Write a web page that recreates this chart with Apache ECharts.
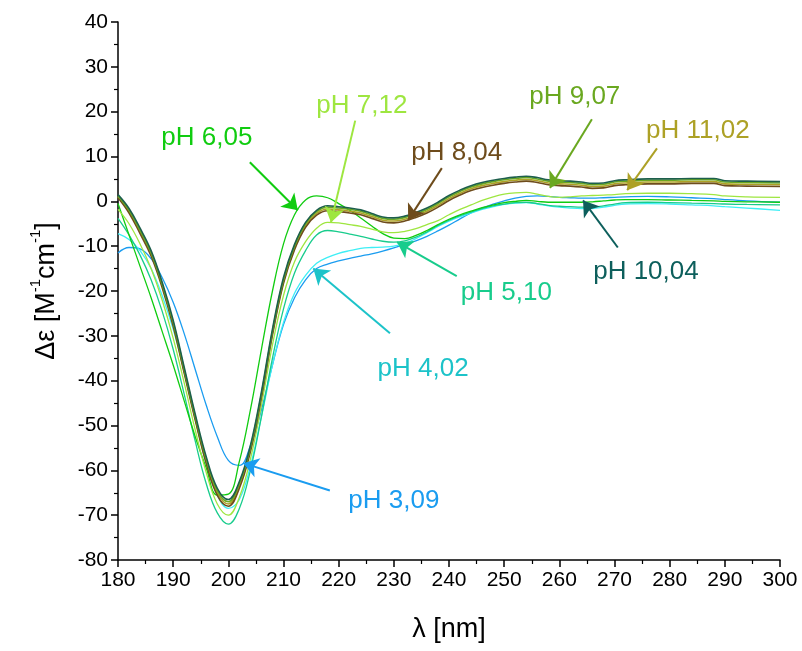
<!DOCTYPE html>
<html>
<head>
<meta charset="utf-8">
<script src="https://cdn.jsdelivr.net/npm/echarts@6/dist/echarts.min.js"></script>
<style>
  html, body { margin: 0; padding: 0; background: #fff; }
  #chart { width: 802px; height: 651px; }
</style>
</head>
<body>
<div id="chart"></div>
<script>
// wavelengths (nm)
const lambda = [180, 182, 184, 186, 188, 190, 192, 194, 196, 198, 200, 202, 204, 206, 208, 210, 212, 214, 216, 218,
  220, 222, 224, 226, 228, 230, 232, 234, 236, 238, 240, 242, 244, 246, 248, 250, 252, 254, 256, 258,
  260, 262, 264, 266, 268, 270, 272, 276, 280, 284, 288, 290, 294, 300]

// delta epsilon per pH
const ph309 = [-11.5, -10.3, -10.6, -12.8, -17, -22.5, -29.5, -37.5, -45.5, -52.5, -57.8, -58.9, -54.5, -46.5, -36.5, -27.5, -21.5, -17.5, -15, -14,
  -13.3, -12.7, -12.2, -11.7, -11.1, -10.4, -9.6, -8.8, -7.8, -6.6, -5.3, -3.9, -2.6, -1.5, -0.6, 0.1, 0.7, 1.1, 1.2, 1.1,
  0.9, 0.8, 0.7, 0.7, 0.8, 0.9, 1, 1.1, 1, 0.8, 0.6, 0.4, 0.1, -0.2]
const ph402 = [-7.2, -8.5, -11, -15, -21, -28.5, -38, -48.5, -58.5, -65.5, -68.5, -66.5, -59, -48, -36.5, -27, -20.5, -16.5, -13.8, -12.5,
  -11.6, -11, -10.5, -10.3, -10.2, -10, -9.4, -8.3, -7, -5.6, -4.4, -3.4, -2.6, -1.8, -1.2, -0.7, -0.4, -0.3, -0.6, -1,
  -1.3, -1.5, -1.6, -1.6, -1.3, -0.9, -0.6, -0.5, -0.6, -0.8, -1, -1.2, -1.5, -2]
const ph510 = [-3.8, -7.5, -12, -17.5, -24.5, -33, -43, -53.5, -63, -69.5, -72, -68.5, -60, -48, -35, -24, -16, -11, -7.5, -6.5,
  -6.8, -7.3, -7.8, -8.4, -8.9, -9.1, -8.8, -8, -6.8, -5.4, -4.2, -3.2, -2.4, -1.6, -1, -0.6, -0.3, -0.2, -0.5, -0.9,
  -1.1, -1.2, -1.3, -1.3, -1, -0.6, -0.3, -0.2, -0.3, -0.4, -0.5, -0.6, -0.7, -0.8]
const ph605 = [-0.5, -7.5, -14.5, -21.5, -29, -36.5, -44.5, -52.5, -59.5, -65.5, -65.3, -58, -46.5, -33, -20, -9.5, -3, 0.3, 1.2, 0.8,
  -0.5, -2, -3.7, -5.5, -7.2, -8.2, -8.3, -7.6, -6.5, -5.2, -4, -3, -2.2, -1.4, -0.8, -0.3, 0, 0.2, 0, -0.2,
  -0.2, -0.2, -0.2, -0.1, 0.1, 0.3, 0.4, 0.4, 0.3, 0.2, 0.1, 0, -0.1, -0.2]
const ph712 = [-1.8, -5, -9.5, -15, -22, -30.5, -40.5, -51, -60.5, -67.5, -70, -66, -57.5, -45.5, -32, -21, -13.5, -9, -6, -4.7,
  -4.8, -5.2, -5.6, -6.2, -6.8, -7, -6.7, -6.1, -5.2, -4.3, -3, -1.8, -0.8, 0.2, 1, 1.6, 1.9, 2, 1.6, 1.1,
  0.9, 1, 1.2, 1.3, 1.4, 1.5, 1.7, 1.8, 1.8, 1.7, 1.5, 1.2, 1, 0.9]
const ph804 = [0.8, -2.6, -7.2, -12.2, -19.2, -27.8, -38.3, -48.8, -58.5, -65.6, -68, -64, -55.8, -43.8, -29.8, -18.3, -10.8, -5.8, -3.1, -2.1,
  -2.3, -2.6, -3, -3.8, -4.6, -4.8, -4.4, -3.6, -2.6, -1.3, 0.2, 1.4, 2.4, 3.1, 3.6, 4, 4.3, 4.5, 4.2, 3.7,
  3.5, 3.4, 3.2, 2.9, 3, 3.5, 3.7, 3.9, 3.9, 4, 4, 3.5, 3.4, 3.3]
const ph907 = [1.2, -2, -6.5, -11.5, -18.5, -27, -37.5, -48, -57.5, -64.5, -67, -63, -55, -43, -29, -17.5, -10, -5, -2.3, -1.3,
  -1.5, -1.8, -2.2, -3, -3.8, -4, -3.6, -2.8, -1.8, -0.5, 1, 2.2, 3.2, 3.9, 4.4, 4.8, 5.1, 5.3, 5, 4.5,
  4.3, 4.2, 4, 3.7, 3.8, 4.3, 4.5, 4.7, 4.7, 4.8, 4.8, 4.3, 4.2, 4.1]
const ph1004 = [1.5, -1.6, -6, -11, -18, -26.5, -37, -47.5, -57, -64, -66.5, -62.5, -54.5, -42.5, -28.5, -17, -9.6, -4.7, -2, -1,
  -1.2, -1.5, -1.9, -2.7, -3.5, -3.7, -3.3, -2.5, -1.5, -0.2, 1.3, 2.5, 3.5, 4.2, 4.7, 5.1, 5.4, 5.6, 5.3, 4.8,
  4.6, 4.5, 4.3, 4, 4.1, 4.6, 4.8, 5, 5, 5.1, 5.1, 4.6, 4.5, 4.4]
const ph1102 = [1, -2.3, -6.8, -11.8, -18.8, -27.4, -37.9, -48.4, -58, -65, -67.5, -63.5, -55.4, -43.4, -29.4, -17.9, -10.4, -5.4, -2.7, -1.7,
  -1.9, -2.2, -2.6, -3.4, -4.2, -4.4, -4, -3.2, -2.2, -0.9, 0.6, 1.8, 2.8, 3.5, 4, 4.4, 4.7, 4.9, 4.6, 4.1,
  3.9, 3.8, 3.6, 3.3, 3.4, 3.9, 4.1, 4.3, 4.3, 4.4, 4.4, 3.9, 3.8, 3.7]

// drawing order, bottom first
const curves = [
  { name: 'pH 3,09', values: ph309, color: '#1a9cf0', width: 1.3 },
  { name: 'pH 4,02', values: ph402, color: '#3eeef5', width: 1.3 },
  { name: 'pH 5,10', values: ph510, color: '#18cc8c', width: 1.3 },
  { name: 'pH 6,05', values: ph605, color: '#10cc10', width: 1.3 },
  { name: 'pH 7,12', values: ph712, color: '#9ee640', width: 1.3 },
  { name: 'pH 11,02', values: ph1102, color: '#ada126', width: 1.6 },
  { name: 'pH 8,04', values: ph804, color: '#6e4c1c', width: 1.6 },
  { name: 'pH 9,07', values: ph907, color: '#6aa820', width: 1.6 },
  { name: 'pH 10,04', values: ph1004, color: '#1d5f4c', width: 1.6 }
]

// annotations: text centre, arrow start, arrow tip (data coords)
const annNames = ['pH 3,09', 'pH 4,02', 'pH 5,10', 'pH 6,05', 'pH 7,12', 'pH 8,04', 'pH 9,07', 'pH 10,04', 'pH 11,02']
const annColors = ['#1a9cf0', '#1cc3c9', '#18cc8c', '#10cc10', '#9ee640', '#6e4c1c', '#6aa820', '#0d5f5c', '#ada126']
const annText = [[230, -66.7], [235.3, -37.3], [250.4, -20.5], [196.1, 14.1], [224.2, 21.4], [241.4, 10.9], [262.8, 23.2], [275.7, -15.8], [285.1, 15.8]]
const annFrom = [[218.4, -64.5], [229.3, -29.4], [241.4, -16.7], [203.9, 8.7], [223, 18], [238.7, 7.4], [265.9, 18.3], [270.6, -10.3], [277.7, 11.8]]
const annTo = [[202.7, -58.4], [215.4, -15], [230.6, -9.1], [212.6, -2], [218.6, -4.7], [232.6, -4.2], [258.3, 3], [264.3, 0.2], [272.3, 2.5]]

const font = 'Liberation Sans, Arial, sans-serif'

const chart = echarts.init(document.getElementById('chart'))

const series = curves.map(c => ({
  name: c.name,
  type: 'line',
  data: lambda.map((x, i) => [x, c.values[i]]),
  smooth: 0.4,
  showSymbol: false,
  symbol: 'none',
  lineStyle: { color: c.color, width: c.width },
  itemStyle: { color: c.color },
  z: 2
}))

// text labels
series.push({
  name: 'labels',
  type: 'scatter',
  symbolSize: 0,
  z: 5,
  itemStyle: { opacity: 1 },
  data: annNames.map((n, i) => ({
    value: annText[i],
    name: n,
    label: { color: annColors[i] }
  })),
  label: {
    show: true,
    position: 'inside',
    formatter: p => p.name,
    fontSize: 26,
    fontFamily: font,
    opacity: 1
  }
})

// arrows
series.push({
  name: 'arrows',
  type: 'line',
  data: [],
  z: 4,
  markLine: {
    silent: true,
    animation: false,
    label: { show: false },
    data: annNames.map((n, i) => [
      {
        coord: annFrom[i],
        symbol: 'none',
        lineStyle: { color: annColors[i], width: 2, type: 'solid', opacity: 1 },
        itemStyle: { color: annColors[i] }
      },
      { coord: annTo[i], symbol: 'arrow', symbolSize: 15 }
    ])
  }
})

const option = {
  animation: false,
  backgroundColor: '#fff',
  grid: { left: 118, right: 22, top: 22, bottom: 91 },
  xAxis: {
    type: 'value',
    min: 180,
    max: 300,
    interval: 10,
    name: 'λ [nm]',
    nameLocation: 'middle',
    nameGap: 56,
    nameTextStyle: { fontSize: 27, color: '#000', fontFamily: font },
    axisLine: { show: true, onZero: false, lineStyle: { color: '#000', width: 1.5 } },
    axisTick: { show: true, length: 7, lineStyle: { color: '#000', width: 1.5 } },
    minorTick: { show: true, splitNumber: 2, length: 4, lineStyle: { color: '#000', width: 1.2 } },
    axisLabel: { fontSize: 21, color: '#000', fontFamily: font, margin: 10 },
    splitLine: { show: false }
  },
  yAxis: {
    type: 'value',
    min: -80,
    max: 40,
    interval: 10,
    name: '{a|Δε [M}{s|-1}{a|cm}{s|-1}{a|]}',
    nameLocation: 'middle',
    nameRotate: 90,
    nameGap: 58,
    nameTextStyle: {
      color: '#000',
      fontFamily: font,
      rich: {
        a: { fontSize: 27, color: '#000', fontFamily: font, lineHeight: 32, verticalAlign: 'bottom' },
        s: { fontSize: 15, color: '#000', fontFamily: font, lineHeight: 32, verticalAlign: 'top' }
      }
    },
    axisLine: { show: true, onZero: false, lineStyle: { color: '#000', width: 1.5 } },
    axisTick: { show: true, length: 7, lineStyle: { color: '#000', width: 1.5 } },
    minorTick: { show: true, splitNumber: 2, length: 4, lineStyle: { color: '#000', width: 1.2 } },
    axisLabel: { fontSize: 21, color: '#000', fontFamily: font, margin: 10 },
    splitLine: { show: false }
  },
  series: series
}

chart.setOption(option)
</script>
</body>
</html>
